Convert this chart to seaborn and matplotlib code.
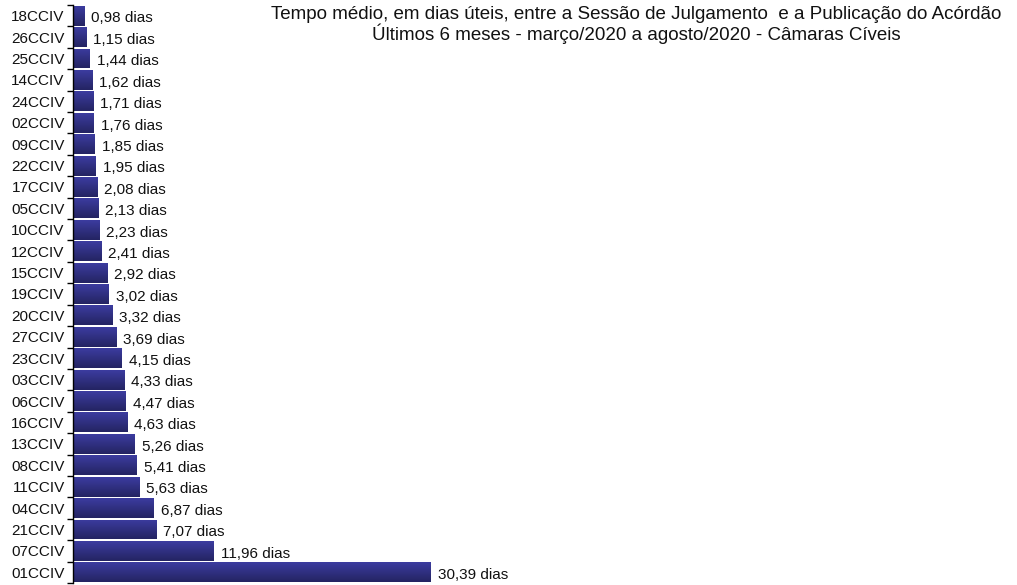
import matplotlib
matplotlib.use("Agg")
import matplotlib.pyplot as plt
import seaborn as sns
import numpy as np
import pandas as pd
from matplotlib.colors import LinearSegmentedColormap

camaras = ["18CCIV", "26CCIV", "25CCIV", "14CCIV", "24CCIV", "02CCIV", "09CCIV",
           "22CCIV", "17CCIV", "05CCIV", "10CCIV", "12CCIV", "15CCIV", "19CCIV",
           "20CCIV", "27CCIV", "23CCIV", "03CCIV", "06CCIV", "16CCIV", "13CCIV",
           "08CCIV", "11CCIV", "04CCIV", "21CCIV", "07CCIV", "01CCIV"]
dias = [0.98, 1.15, 1.44, 1.62, 1.71, 1.76, 1.85, 1.95, 2.08, 2.13, 2.23, 2.41,
        2.92, 3.02, 3.32, 3.69, 4.15, 4.33, 4.47, 4.63, 5.26, 5.41, 5.63, 6.87,
        7.07, 11.96, 30.39]
titulo = ("Tempo médio, em dias úteis, entre a Sessão de Julgamento  e a Publicação do Acórdão\n"
          "Últimos 6 meses - março/2020 a agosto/2020 - Câmaras Cíveis")

df = pd.DataFrame({"camara": camaras, "dias": dias})

sns.set_style("white")
plt.rcParams["font.family"] = ["Liberation Sans", "DejaVu Sans"]

W, H = 1017, 585
fig = plt.figure(figsize=(W / 100, H / 100), dpi=100)
ax = fig.add_axes([73 / W, 1 - 583 / H, (W - 73) / W, (583 - 5) / H])

sns.barplot(data=df, x="dias", y="camara", orient="h", color="#333399",
            width=0.93, ax=ax, saturation=1)

n = len(camaras)
ax.set_ylim(n - 0.5, -0.5)
ax.set_xlim(0, (W - 73) / 11.78)

# gradient fill on each bar
cmap = LinearSegmentedColormap.from_list("g", ["#3c3ca0", "#242462"])
grad = np.linspace(0, 1, 64).reshape(-1, 1)
for p in ax.patches:
    x0, y0 = p.get_x(), p.get_y()
    w, h = p.get_width(), p.get_height()
    im = ax.imshow(grad, cmap=cmap, aspect="auto",
                   extent=(x0, x0 + w, y0 + h, y0), origin="upper", zorder=2)
    im.set_clip_path(p)
    p.set_facecolor("none")
    p.set_edgecolor("none")

for i, v in enumerate(dias):
    ax.annotate(f"{v:.2f}".replace(".", ",") + " dias", xy=(v, i),
                xytext=(5, -2), textcoords="offset points",
                ha="left", va="center", fontsize=11, color="#111111")

for s in ["top", "right", "bottom"]:
    ax.spines[s].set_visible(False)
ax.spines["left"].set_color("black")
ax.spines["left"].set_linewidth(1.0)

ax.set_xticks([])
ax.set_xlabel("")
ax.set_ylabel("")
ax.set_yticks(range(n))
ax.set_yticklabels(camaras, fontsize=11, color="#111111")
ax.tick_params(axis="y", which="major", left=True, length=0, pad=6)
ax.set_yticks(np.arange(-0.5, n, 1.0), minor=True)
ax.tick_params(axis="y", which="minor", left=True, length=4, width=1,
               color="black", direction="out")

fig.text(636 / W, 1 - 6 / H, titulo, ha="center", va="top", fontsize=13.5,
         linespacing=1.05, color="#111111",
         family=["Liberation Sans Narrow", "Liberation Sans", "DejaVu Sans"])

fig.savefig("out.png", dpi=100)
